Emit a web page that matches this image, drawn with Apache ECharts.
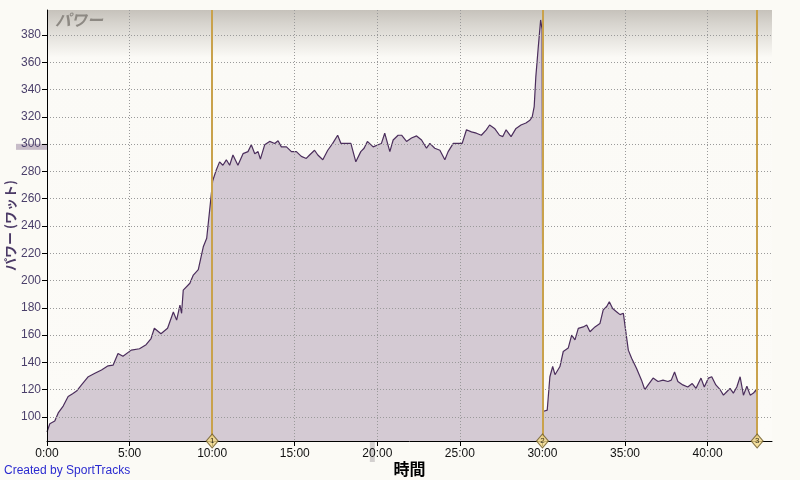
<!DOCTYPE html>
<html>
<head>
<meta charset="utf-8">
<script src="https://cdn.jsdelivr.net/npm/echarts@6/dist/echarts.min.js"></script>
<style>
html,body{margin:0;padding:0;background:#fbfaf5;}
#c{width:800px;height:480px;}
</style>
</head>
<body>
<div id="c"></div>
<script>
// elapsed time (minutes)
const times = [
  0, 0.17, 0.47, 0.68, 0.98, 1.28, 1.55, 1.79, 2.09, 2.5, 2.9, 3.3, 3.7, 4.0, 4.3, 4.6, 5.1, 5.6, 6.0, 6.3, 6.5, 6.9, 7.3, 7.65, 7.85, 8.05, 8.15, 8.25, 8.65, 8.86, 9.16, 9.47, 9.67, 9.87, 10.03,
  10.25, 10.45, 10.65, 10.86, 11.06, 11.26, 11.56, 11.87, 12.17, 12.37, 12.58, 12.78, 12.92, 13.18, 13.48, 13.79, 13.99, 14.19, 14.5, 14.8, 15.1, 15.4, 15.7, 15.9, 16.2, 16.4, 16.7, 17.0, 17.3, 17.6, 17.8, 18.1, 18.4, 18.7, 19.0, 19.2, 19.4, 19.75, 20.05,
  20.25, 20.45, 20.76, 20.96, 21.26, 21.47, 21.77, 22.07, 22.38, 22.68, 22.98, 23.18, 23.48, 23.79, 24.09, 24.29, 24.6, 24.9, 25.14, 25.4, 25.7, 26.0, 26.3, 26.6, 26.8, 27.1, 27.4, 27.6, 27.8, 28.1, 28.4, 28.7, 29.0, 29.24, 29.38, 29.5, 29.6, 29.75, 29.89, 29.98, 30.03,
  30.15, 30.29, 30.45, 30.62, 30.76, 31.06, 31.26, 31.56, 31.77, 31.97, 32.17, 32.47, 32.68, 32.88, 33.18, 33.48, 33.68, 33.89, 34.05, 34.25, 34.5, 34.7, 34.9, 35.06, 35.2, 35.4, 35.7, 36.0, 36.2, 36.4, 36.7, 37.0, 37.3, 37.6, 37.8, 38.0, 38.2, 38.5, 38.8, 39.07, 39.3, 39.6, 39.8, 40.05, 40.25, 40.5, 40.76, 40.96, 41.16, 41.36, 41.56, 41.77, 41.97, 42.17, 42.38, 42.58, 42.78, 42.94, 43.0
];
// power (watts)
const power = [
  89, 95, 97, 103, 108, 115, 117, 119, 123.5, 129.5, 132, 134.5, 137.5, 138, 146.5, 144.5, 149, 150, 153, 157.5, 165, 161, 165, 177, 171, 182, 176, 193, 198, 204, 208, 225, 231, 254, 273,
  281, 287, 284.5, 288.5, 284.5, 292, 284.5, 293, 294.5, 299.5, 293, 294.5, 289, 299.5, 302, 300.5, 302.5, 298, 298, 294.5, 294.5, 291, 289.5, 292, 295.5, 292, 288.5, 295.5, 300.5, 306.5, 300.5, 300.5, 300.5, 287, 294.5, 297, 302, 298, 299.5,
  300.5, 308, 294.5, 303, 306.5, 306.5, 302, 304.5, 306, 303, 297, 300.5, 297, 295.5, 288.5, 294.5, 300.5, 300.5, 300.5, 310.5, 309, 308, 306.5, 310.5, 314, 311.5, 306.5, 305.5, 310.5, 305.5, 311.5, 314, 315.5, 317.5, 320, 327.5, 349.5, 371.5, 391, 384, 104,
  103, 105, 129.5, 137, 131, 137, 148, 150.5, 160, 156.5, 165, 166, 167.5, 162.5, 166, 168.5, 178.5, 181, 184.5, 179.5, 177, 175, 176, 161.5, 149, 143, 135.5, 127, 120, 123.5, 128.5, 126, 127, 126, 127, 133, 126, 123.5, 122, 124.5, 121, 128.5, 122, 128.5, 129.5, 123.5, 120, 116, 118.5, 121, 117.5, 122, 129.5, 116, 122.5, 116, 117.5, 120, 113
];
const yTicks = [100, 120, 140, 160, 180, 200, 220, 240, 260, 280, 300, 320, 340, 360, 380];
const xTicks = [0, 5, 10, 15, 20, 25, 30, 35, 40];
const lapTimes = [10, 30, 43];
const lapLabels = ['1', '2', '3'];
const avgPower = 298;
const cursorTime = 19.7;
const yMin = 82.4, yMax = 398.3, xMax = 43.9;

const seriesData = times.map((t, i) => [t, power[i]]);
const lapData = lapTimes.map((t, i) => ({ value: [t, yMin], label: { formatter: lapLabels[i] } }));

const creditText = {
  type: 'text', left: 4, top: 465,
  style: { text: 'Created by SportTracks', fill: '#2b2bd0', fontSize: 12, fontFamily: 'Liberation Sans' }
};

const chart = echarts.init(document.getElementById('c'), null, { renderer: 'canvas' });
const option = {
  animation: false,
  backgroundColor: '#fbfaf5',
  title: {
    text: 'パワー', left: 50, top: 7,
    textStyle: { color: '#8d8983', fontSize: 16, fontStyle: 'italic', fontWeight: 'bold', fontFamily: 'Noto Sans CJK JP' }
  },
  grid: {
    left: 47, right: 28, top: 10, bottom: 39, show: true, borderWidth: 0,
    outerBoundsMode: 'none', containLabel: false,
    backgroundColor: {
      type: 'linear', x: 0, y: 0, x2: 0, y2: 1,
      colorStops: [
        { offset: 0, color: '#c6c2bb' },
        { offset: 0.03, color: '#d6d3cd' },
        { offset: 0.11, color: '#fbfaf6' },
        { offset: 1, color: '#fcfbf7' }
      ]
    }
  },
  xAxis: {
    type: 'value', min: 0, max: xMax, z: 3,
    name: '時間', nameLocation: 'middle', nameGap: 20, nameMoveOverlap: false,
    nameTextStyle: { color: '#000', fontSize: 16, fontWeight: 'bold', fontFamily: 'Noto Sans CJK JP', verticalAlign: 'top' },
    axisLine: { show: true, onZero: false, lineStyle: { color: '#000', width: 1 } },
    axisTick: { show: true, length: 5, customValues: xTicks, lineStyle: { color: '#000' } },
    axisLabel: {
      customValues: xTicks, color: '#111', fontSize: 12, fontFamily: 'Liberation Sans', margin: 7,
      formatter: v => Math.round(v) + ':00'
    },
    splitLine: { show: true, lineStyle: { color: '#9a9a9a', type: [1, 2], width: 1 } }
  },
  yAxis: {
    type: 'value', min: yMin, max: yMax, z: 3,
    name: 'パワー (ワット)', nameLocation: 'middle', nameGap: 30, nameRotate: 90, nameMoveOverlap: false,
    nameTextStyle: { color: '#4b3a66', fontSize: 13, fontWeight: 'bold', fontFamily: 'Noto Sans CJK JP' },
    axisLine: { show: true, lineStyle: { color: '#000', width: 1 } },
    axisTick: { show: true, length: 5, customValues: yTicks, lineStyle: { color: '#000' } },
    axisLabel: { customValues: yTicks, color: '#4a3f6a', fontSize: 12, fontFamily: 'Liberation Sans', margin: 6 },
    splitLine: { show: true, lineStyle: { color: '#9a9a9a', type: [1, 2], width: 1 } }
  },
  series: [
    {
      type: 'line', data: seriesData, showSymbol: false, z: 2,
      lineStyle: { color: '#4b2e5c', width: 1.2 },
      areaStyle: { color: '#d4cad3', opacity: 1 }
    },
    {
      type: 'scatter', data: lapData, z: 6,
      symbol: 'diamond', symbolSize: [12, 14],
      itemStyle: { color: '#f3da8a', borderColor: '#6d5a28', borderWidth: 1 },
      label: { show: true, position: 'inside', color: '#000', fontSize: 8, fontFamily: 'Liberation Sans' },
      markLine: {
        silent: true, symbol: ['none', 'none'], z: 5,
        label: { show: false },
        lineStyle: { color: '#c9a24c', width: 2, type: 'solid' },
        data: lapTimes.map(t => ({ xAxis: t }))
      }
    }
  ],
  graphic: [creditText]
};
chart.setOption(option);

const yAvg = chart.convertToPixel({ yAxisIndex: 0 }, avgPower);
const xCur = chart.convertToPixel({ xAxisIndex: 0 }, cursorTime);
const yBottom = chart.convertToPixel({ yAxisIndex: 0 }, yMin);
chart.setOption({
  graphic: [
    creditText,
    { type: 'rect', z: 0, shape: { x: 16, y: yAvg - 3, width: 31, height: 6 }, style: { fill: '#c7bcc8' } },
    { type: 'rect', z: 0, shape: { x: xCur - 2.5, y: yBottom, width: 5, height: 21 }, style: { fill: '#d3d0cf' } }
  ]
});
</script>
</body>
</html>
